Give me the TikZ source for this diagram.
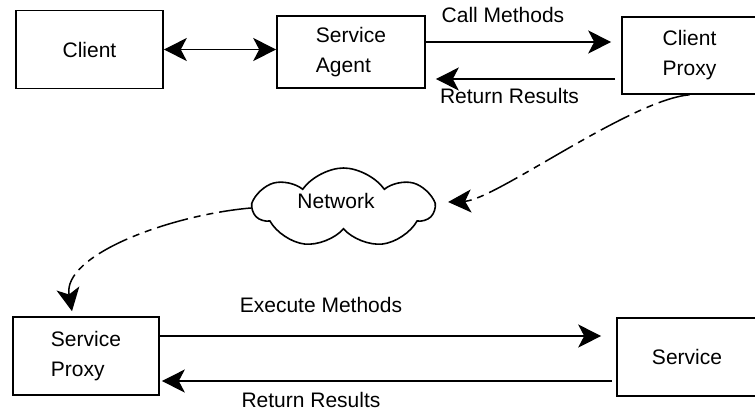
\documentclass[tikz,border=0pt]{standalone}
\usepackage{fontspec}
\setmainfont{Liberation Sans}
\usetikzlibrary{arrows.meta,shapes.symbols}

\begin{document}
\begin{tikzpicture}[x=1pt,y=-1pt,
    font=\fontsize{21pt}{30pt}\selectfont,
    bigtip/.tip={Stealth[length=23pt,width=23pt,inset=6pt]},
    box/.style={draw,line width=1.6pt,align=left,inner sep=0pt},
    flow/.style={line width=1.5pt,-bigtip},
    dashflow/.style={flow,dash pattern=on 32pt off 6pt on 7pt off 6pt on 7pt off 6pt}]
    \useasboundingbox (0,0) rectangle (755,410);

    % Draw boxes
    \node[box,minimum width=147pt,minimum height=78pt] (client) at (89.5,49.5) {Client};
    \node[box,minimum width=148pt,minimum height=72pt] (agent) at (351,52) {Service\\Agent};
    \node[box,minimum width=135pt,minimum height=77pt] (cproxy) at (689.5,55.5) {Client\\Proxy};
    \node[box,minimum width=146pt,minimum height=78pt] (sproxy) at (86,356) {Service\\Proxy};
    \node[box,minimum width=140pt,minimum height=78pt] (service) at (687,357) {Service};

    % Draw network cloud
    \node[cloud,draw,line width=1.6pt,cloud puffs=7,cloud puff arc=110,aspect=2.2,inner sep=0pt,
          minimum width=179pt,minimum height=80pt,
          label={[name=nettext,xshift=-7.5pt,yshift=7pt]center:Network}] (net) at (343.5,208) {};

    % Draw top arrows
    \draw[flow,bigtip-bigtip] (client.east) -- (client.east -| agent.west);
    \draw[flow,shorten >=10pt] ([yshift=10pt]agent.east) -- ([yshift=10pt]agent.east -| cproxy.west);
    \draw[flow,shorten <=6pt,shorten >=10pt] ([yshift=-27pt]agent.east -| cproxy.west) -- ([yshift=-27pt]agent.east);

    % Draw bottom arrows
    \draw[flow,shorten >=15pt] ([yshift=20pt]sproxy.east) -- ([yshift=20pt]sproxy.east -| service.west);
    \draw[flow,shorten <=4pt,shorten >=2pt] ([yshift=-25pt]sproxy.east -| service.west) -- ([yshift=-25pt]sproxy.east);

    % Draw dashed curves through the network
    \draw[dashflow] (cproxy.south) .. controls (630,100) and (495,200) .. ([shift={(12,-6)}]net.east);
    \draw[dashflow] (net.west) .. controls (170,215) and (62,255) .. ([xshift=-14pt,yshift=5pt]sproxy.north);

    \node (call) at (503,15) {Call Methods};
    \node (ret1) at (509.5,96) {Return Results};
    \node (exec) at (321,304.5) {Execute Methods};
    \node (ret2) at (311,399.5) {Return Results};

\end{tikzpicture}
\end{document}
